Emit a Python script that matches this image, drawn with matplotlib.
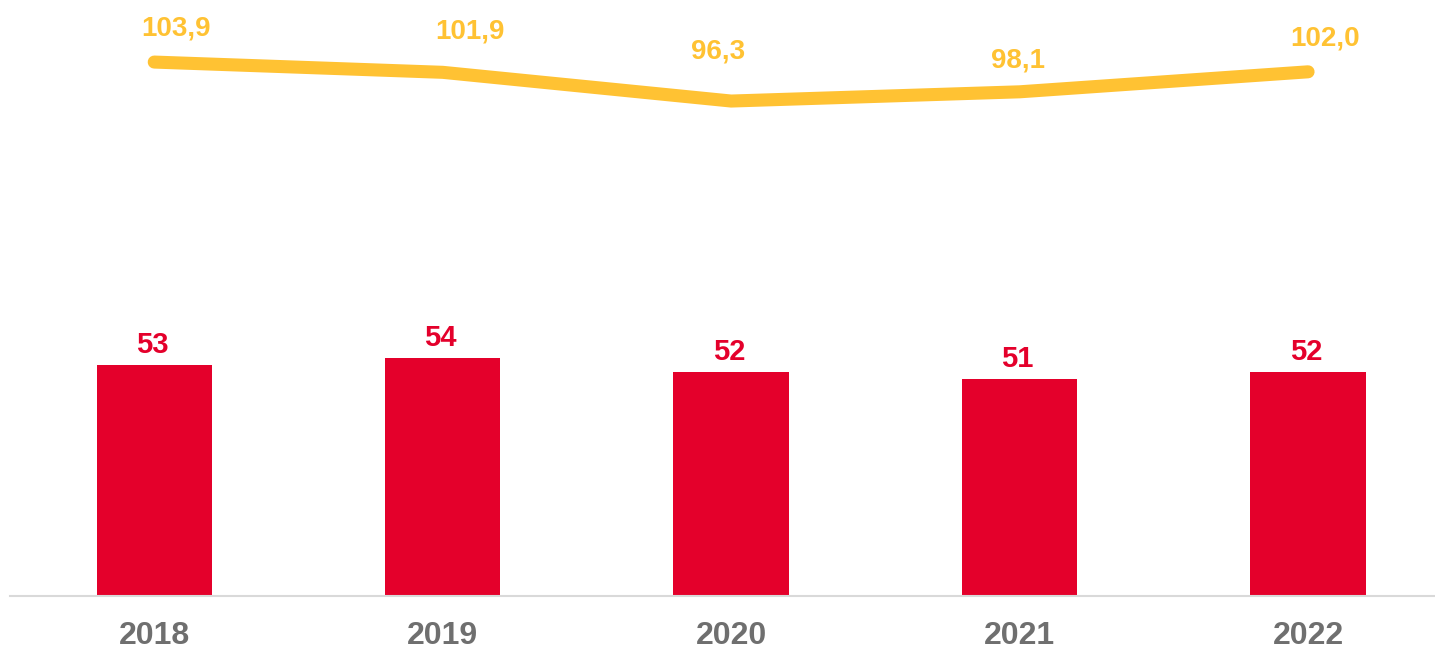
import numpy as np
import matplotlib.pyplot as plt

plt.rcParams['font.family'] = ['Liberation Sans', 'DejaVu Sans']

years = ['2018', '2019', '2020', '2021', '2022']
bar_values = [53, 54, 52, 51, 52]
line_values = [103.9, 101.9, 96.3, 98.1, 102.0]
line_labels = ['103,9', '101,9', '96,3', '98,1', '102,0']

# hand-placed label offsets (pixels) as in the original
line_label_dx = [22, 27, -13, -2, 17]
line_label_dy = [27, 34, 43, 24, 26]

red = '#E4002B'
yellow = '#FFC233'
grey = '#6F6F6F'

fig = plt.figure(figsize=(14.35, 6.49), dpi=100)
ax = fig.add_axes([10 / 1435, 53 / 649, 1425 / 1435, 596 / 649])
ax2 = ax.twinx()

x = np.arange(len(years))
ax.bar(x, np.array(bar_values) - 20, bottom=20, width=0.4, color=red, zorder=2)
for xi, v in zip(x, bar_values):
    ax.annotate(str(v), (xi, v), xytext=(-2, 12), textcoords='offset pixels',
                ha='center', va='baseline', color=red, fontsize=21,
                fontweight='bold')

ax2.plot(x, line_values, color=yellow, lw=9.4, solid_capstyle='round',
         solid_joinstyle='round', zorder=3)
for xi, v, lab, dx, dy in zip(x, line_values, line_labels,
                              line_label_dx, line_label_dy):
    ax2.annotate(lab, (xi, v), xytext=(dx, dy), textcoords='offset pixels',
                 ha='center', va='baseline', color=yellow, fontsize=20,
                 fontweight='bold')

ax.set_xlim(-0.5, 4.44)
ax.set_ylim(20, 20 + 596 / 7)
ax2.set_ylim(-0.2, 116)

ax.set_xticks(x)
ax.set_xticklabels(years)
ax.tick_params(axis='x', length=0, pad=18, labelsize=23, labelcolor=grey)
for t in ax.get_xticklabels():
    t.set_fontweight('bold')
ax.set_yticks([])
ax2.set_yticks([])

for a in (ax, ax2):
    for s in ['top', 'left', 'right', 'bottom']:
        a.spines[s].set_visible(False)
ax.spines['bottom'].set_visible(True)
ax.spines['bottom'].set_color('#D9D9D9')
ax.spines['bottom'].set_linewidth(1.5)
ax.patch.set_visible(False)

fig.savefig('out.png', dpi=100)
